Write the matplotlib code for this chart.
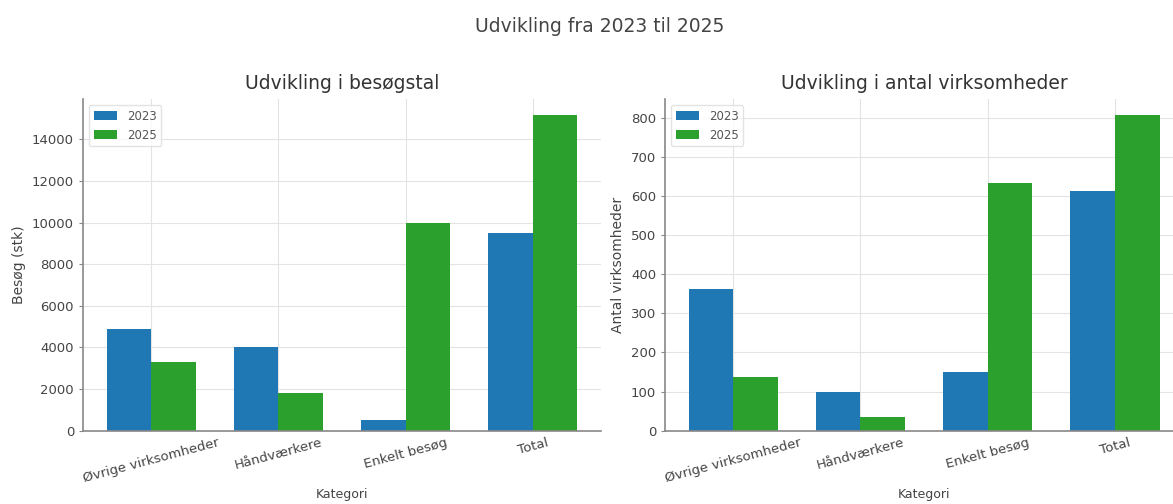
import numpy as np
import matplotlib
matplotlib.use("Agg")
import matplotlib.pyplot as plt

# data
kategorier = ["Øvrige virksomheder", "Håndværkere", "Enkelt besøg", "Total"]
besog_2023 = [4870, 4030, 510, 9480]
besog_2025 = [3300, 1830, 10000, 15170]
virk_2023 = [362, 99, 151, 613]
virk_2025 = [136, 36, 633, 807]

plt.rcParams['font.family'] = ['DejaVu Sans']
plt.rcParams['text.color'] = '#333333'
plt.rcParams['axes.labelcolor'] = '#444444'
plt.rcParams['xtick.color'] = '#444444'
plt.rcParams['ytick.color'] = '#444444'

blue = "#1f77b4"
green = "#2ca02c"
width = 0.35

fig = plt.figure(figsize=(11.73, 5.04), dpi=100)
ax1 = fig.add_axes([0.0708, 0.1454, 0.4416, 0.658])
ax2 = fig.add_axes([0.567, 0.1454, 0.4416, 0.658])


def tegn(ax, v23, v25, titel, ylabel):
    x = np.arange(len(kategorier))
    ax.bar(x - width/2, v23, width, label="2023", color=blue)
    ax.bar(x + width/2, v25, width, label="2025", color=green)
    ax.set_xticks(x)
    ax.set_xticklabels(kategorier, rotation=15, ha="center", fontsize=9.5)
    ax.tick_params(axis='y', labelsize=9.5, length=3, color='#888888')
    ax.tick_params(axis='x', length=0, pad=4)
    ax.set_title(titel, fontsize=13.5, color='#333333', pad=7)
    ax.set_xlabel("Kategori", fontsize=9, labelpad=2)
    ax.set_ylabel(ylabel, fontsize=10)
    ax.grid(True, color='#e3e3e3', linewidth=0.8)
    ax.set_axisbelow(True)
    for s in ["top", "right"]:
        ax.spines[s].set_visible(False)
    for s in ["left", "bottom"]:
        ax.spines[s].set_color('#888888')
        ax.spines[s].set_linewidth(1.2)
    leg = ax.legend(loc="upper left", fontsize=8.5, frameon=True)
    leg.get_frame().set_edgecolor('#dddddd')
    for t in leg.get_texts():
        t.set_color('#555555')


tegn(ax1, besog_2023, besog_2025, "Udvikling i besøgstal", "Besøg (stk)")
tegn(ax2, virk_2023, virk_2025, "Udvikling i antal virksomheder", "Antal virksomheder")

fig.suptitle("Udvikling fra 2023 til 2025", x=0.511, y=0.966, fontsize=13.5, color='#444444')

fig.savefig("out.png", dpi=100)
